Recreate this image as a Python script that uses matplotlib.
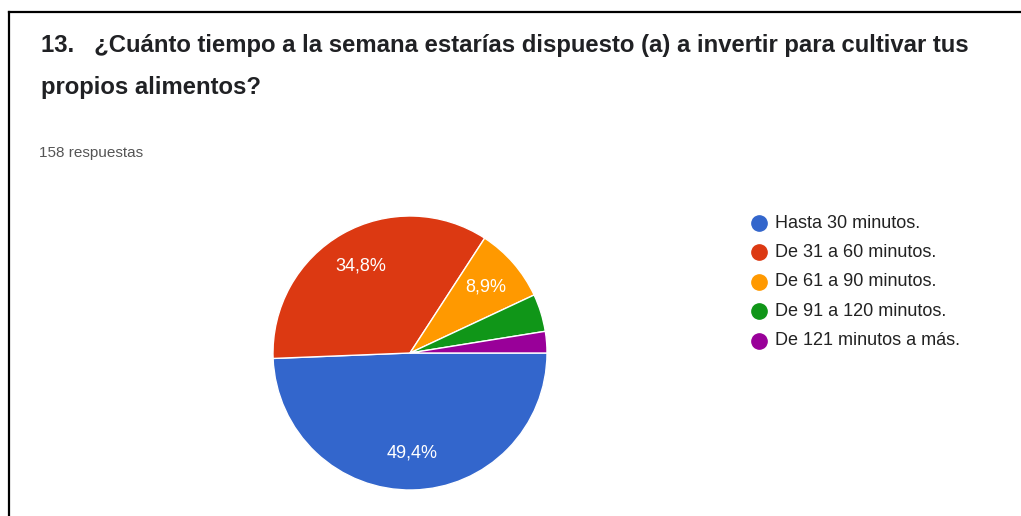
import matplotlib.pyplot as plt
from matplotlib.lines import Line2D

W, H = 1021, 516

titulo = ["13.   ¿Cuánto tiempo a la semana estarías dispuesto (a) a invertir para cultivar tus",
          "propios alimentos?"]
total_txt = "158 respuestas"
categorias = ["Hasta 30 minutos.", "De 31 a 60 minutos.", "De 61 a 90 minutos.",
              "De 91 a 120 minutos.", "De 121 minutos a más."]
respuestas = [78, 55, 14, 7, 4]
colores = ["#3366CC", "#DC3912", "#FF9900", "#109618", "#990099"]


def fx(px):
    return px / W


def fy(py):
    return 1 - py / H


fig = plt.figure(figsize=(W / 100, H / 100), dpi=100)
fig.patch.set_facecolor("white")

# marco de la captura (arriba e izquierda)
fig.add_artist(Line2D([fx(9), fx(W)], [fy(11.5), fy(11.5)], transform=fig.transFigure,
                      color="black", lw=1.6))
fig.add_artist(Line2D([fx(9), fx(9)], [fy(11.5), fy(H)], transform=fig.transFigure,
                      color="black", lw=1.6))

fig.text(fx(41), fy(52), titulo[0], fontsize=17.2, fontweight="bold", color="#202124",
         family="Liberation Sans", va="baseline")
fig.text(fx(41), fy(94), titulo[1], fontsize=17.2, fontweight="bold", color="#202124",
         family="Liberation Sans", va="baseline")
fig.text(fx(39), fy(157), total_txt, fontsize=11, color="#555555",
         family="Liberation Sans", va="baseline")

# pastel
cx, cy, r = 410, 353, 137
ax = fig.add_axes([fx(cx - r), fy(cy + r), 2 * r / W, 2 * r / H])


def etiqueta(p):
    return f"{p:.1f}%".replace(".", ",") if p >= 5 else ""


wedges, _, autotexts = ax.pie(respuestas, colors=colores, startangle=0, counterclock=False,
                              autopct=etiqueta, pctdistance=0.73,
                              wedgeprops=dict(edgecolor="white", linewidth=1))
for t in autotexts:
    t.set_color("white")
    t.set_fontsize(13)
    t.set_family("Liberation Sans")
ax.set_xlim(-1, 1)
ax.set_ylim(-1, 1)
ax.set_aspect("equal")

# leyenda
for i, (cat, col) in enumerate(zip(categorias, colores)):
    y = 223 + i * 29.4
    fig.add_artist(Line2D([fx(759)], [fy(y)], transform=fig.transFigure, marker="o",
                          markersize=11, color=col, linestyle="none"))
    fig.text(fx(775), fy(y), cat, fontsize=13, color="#222222",
             family="Liberation Sans", va="center")

fig.savefig("out.png", dpi=100)
